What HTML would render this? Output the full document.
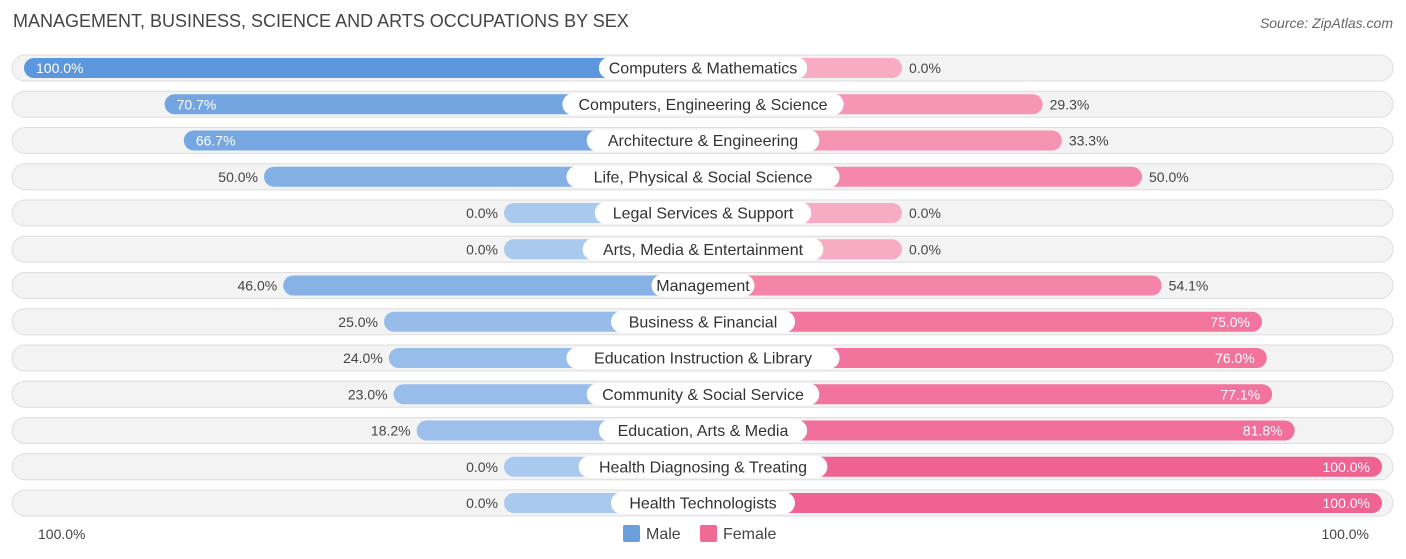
<!DOCTYPE html>
<html><head><meta charset="utf-8"><style>
body{margin:0;width:1406px;height:559px;background:#fff;font-family:"Liberation Sans",sans-serif;overflow:hidden;position:relative}
.t{position:absolute;white-space:nowrap}
</style></head><body>
<div class="t" style="left:13px;top:11px;font-size:18px;color:#444">MANAGEMENT, BUSINESS, SCIENCE AND ARTS OCCUPATIONS BY SEX</div>
<div class="t" style="right:13px;top:15px;font-size:14px;color:#666;font-style:italic">Source: ZipAtlas.com</div>
<svg id="chart" width="1406" height="559" style="position:absolute;left:0;top:0"></svg>
<div class="t" style="left:38px;top:526px;font-size:14px;color:#444">100.0%</div>
<div class="t" style="right:37px;top:526px;font-size:14px;color:#444">100.0%</div>
<div class="t" style="left:623px;top:525px;font-size:16px;color:#444"><span style="display:inline-block;width:17px;height:17px;background:#6a9fdc;border-radius:2px;vertical-align:-3px;margin-right:6px"></span>Male</div>
<div class="t" style="left:700px;top:525px;font-size:16px;color:#444"><span style="display:inline-block;width:17px;height:17px;background:#f06a94;border-radius:2px;vertical-align:-3px;margin-right:6px"></span>Female</div>
<script>
const categories=["Computers & Mathematics","Computers, Engineering & Science","Architecture & Engineering","Life, Physical & Social Science","Legal Services & Support","Arts, Media & Entertainment","Management","Business & Financial","Education Instruction & Library","Community & Social Service","Education, Arts & Media","Health Diagnosing & Treating","Health Technologists"];
const maleValues=[100,70.7,66.7,50,0,0,46,25,24,23,18.2,0,0];
const femaleValues=[0,29.3,33.3,50,0,0,54.1,75,76,77.1,81.8,100,100];
const svg=document.getElementById('chart');
const NS='http://www.w3.org/2000/svg';
const cx=703,y0=68,dy=36.25;
function w(v){return 199+4.8*v;}
function mix(a,b,t){return 'rgb('+a.map((c,i)=>Math.round(c+(b[i]-c)*t)).join(',')+')';}
function mk(tag,attrs){const e=document.createElementNS(NS,tag);for(const k in attrs)e.setAttribute(k,attrs[k]);svg.appendChild(e);return e;}
categories.forEach((c,i)=>{
 const y=y0+i*dy;
 const bg=mk('rect',{x:12,y:y-13,width:1381,height:26,rx:13,fill:'#f3f3f3',stroke:'#dedede'});
 
 
 const mv=maleValues[i],fv=femaleValues[i];
 const mw=w(mv),fw=w(fv);
 const mb=mk('rect',{x:cx-mw,y:y-10,width:mw,height:20,rx:10,fill:mix([170,201,238],[92,150,220],mv/100)});
 
 
 const fb=mk('rect',{x:cx,y:y-10,width:fw,height:20,rx:10,fill:mix([248,172,196],[240,98,145],fv/100)});
 
 
 const lt=mk('text',{x:cx,y:y+5.5,'text-anchor':'middle','font-size':16,fill:'#333','font-family':'Liberation Sans'});
 lt.textContent=c;
 
 
 const tw=c.length*8.1+22;
 const lb=document.createElementNS(NS,'rect');
 lb.setAttribute('x',cx-tw/2);lb.setAttribute('y',y-11);lb.setAttribute('width',tw);lb.setAttribute('height',22);lb.setAttribute('rx',11);lb.setAttribute('fill','#fff');
 
 
 svg.insertBefore(lb,lt);
 const mIn=mv>=60;
 const mt=mk('text',{x:mIn?cx-mw+12:cx-mw-6,y:y+5,'text-anchor':mIn?'start':'end','font-size':14,fill:mIn?'#fff':'#444','font-family':'Liberation Sans'});
 mt.textContent=mv.toFixed(1)+'%';
 
 
 const fIn=fv>=60;
 const ft=mk('text',{x:fIn?cx+fw-12:cx+fw+7,y:y+5,'text-anchor':fIn?'end':'start','font-size':14,fill:fIn?'#fff':'#444','font-family':'Liberation Sans'});
 ft.textContent=fv.toFixed(1)+'%';
 
 
});
</script>
</body></html>
